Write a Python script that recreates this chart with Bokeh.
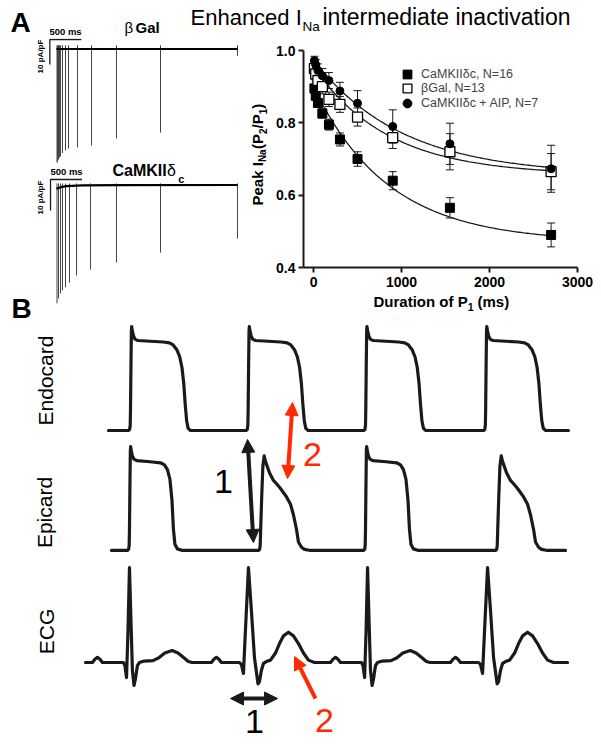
import numpy as np
from bokeh.plotting import figure
from bokeh.models import (Range1d, FixedTicker, PrintfTickFormatter, Label, Legend, LegendItem,
                          ColumnDataSource, Whisker, TeeHead, Arrow, NormalHead)
from bokeh.layouts import column, row
from bokeh.embed import file_html
from bokeh.resources import INLINE

FONT = "Liberation Sans"
RED = "#ff2a00"
INK = "#1a1a1a"

# ---------------- Panel A (right): recovery from intermediate inactivation ----------------
durations_ms = [10, 25, 50, 100, 175, 300, 500, 900, 1550, 2700]
camk_ratio = [0.895, 0.875, 0.855, 0.826, 0.795, 0.754, 0.700, 0.640, 0.565, 0.490]
camk_sem = [0.012, 0.012, 0.012, 0.013, 0.015, 0.018, 0.020, 0.025, 0.028, 0.033]
bgal_ratio = [0.950, 0.935, 0.917, 0.900, 0.865, 0.851, 0.816, 0.759, 0.720, 0.665]
bgal_sem = [0.020, 0.020, 0.020, 0.020, 0.020, 0.022, 0.025, 0.030, 0.050, 0.050]
aip_ratio = [0.972, 0.960, 0.945, 0.930, 0.917, 0.888, 0.854, 0.790, 0.742, 0.673]
aip_sem = [0.012, 0.015, 0.018, 0.020, 0.022, 0.024, 0.035, 0.046, 0.057, 0.065]
# mono-exponential fit parameters: plateau, amplitude, tau (ms)
camk_fit = [0.470, 0.430, 850]
bgal_fit = [0.655, 0.300, 850]
aip_fit = [0.655, 0.320, 1000]
fit_end_ms = 2700
legend_labels = ["CaMKIIδc, N=16", "βGal, N=13", "CaMKIIδc + AIP, N=7"]
x_ticks = [0, 1000, 2000, 3000]
y_ticks = [0.4, 0.6, 0.8, 1.0]

# ---------------- Panel A (left): current traces (ms, pA/pF) ----------------
bgal_spike_t = [0, 8, 24, 40, 56, 87, 135, 183, 325, 548, 944, 1643, 2865]
bgal_spike_amp = [-45.5, -45.0, -44.2, -43.4, -43.0, -41.6, -40.6, -39.8, -39.4, -38.6, -35.8, -33.4, -2.8]
bgal_base_t = [-10, 2865]
bgal_base_v = [0.0, 0.0]
cam_spike_t = [0, 24, 56, 87, 135, 198, 310, 532, 944, 1643, 2865]
cam_spike_amp = [-38.2, -36.6, -35.0, -34.0, -33.0, -31.5, -29.2, -27.3, -25.0, -21.8, -17.3]
cam_base_t = [-10, 60, 150, 400, 1000, 2865]
cam_base_v = [-1.2, -0.7, -0.35, -0.15, -0.05, 0.0]
scalebar_ms = 500
scalebar_pApF = 10

# ---------------- Panel B: schematic AP / ECG templates (ms, normalized level) ----------------
endo_tpl_t = [-14, -6, -2, 0, 3, 6, 8, 12, 20, 30, 50, 136, 224, 265, 290, 315, 335, 350, 362, 372, 382, 392, 408]
endo_tpl_v = [0, 0.01, 0.05, 0.2, 0.6, 0.95, 0.99, 0.95, 0.905, 0.87, 0.857, 0.85, 0.843, 0.835, 0.815, 0.77,
              0.70, 0.60, 0.45, 0.25, 0.09, 0.02, 0]
epi_tpl_t = [-14, -6, -2, 0, 3, 6, 8, 12, 20, 30, 50, 140, 211, 238, 258, 275, 289, 299, 309, 326, 360]
epi_tpl_v = [0, 0.01, 0.05, 0.2, 0.6, 0.95, 0.99, 0.95, 0.9, 0.87, 0.855, 0.845, 0.835, 0.815, 0.77, 0.68,
             0.48, 0.2, 0.06, 0.015, 0]
epi_dome_t = [-14, -6, -2, 0, 8, 16, 25, 32, 41, 61, 88, 109, 136, 177, 204, 224, 245, 258, 279, 299, 340]
epi_dome_v = [0, 0.01, 0.05, 0.15, 0.5, 0.8, 0.9, 0.86, 0.82, 0.74, 0.667, 0.635, 0.59, 0.51, 0.44, 0.34,
              0.2, 0.08, 0.03, 0.01, 0]
ecg_norm_t = [-252, -235, -218, -201, -184, -41, -31, -20, -10, 0, 10, 20, 31, 41, 54, 68, 100, 160, 200,
              240, 290, 330, 370, 400, 426]
ecg_norm_v = [0, 0.035, 0.055, 0.035, 0, 0, -0.032, -0.158, 0.337, 1.0, 0.442, -0.084, -0.242, -0.168,
              -0.032, 0, 0.015, 0.02, 0.05, 0.1, 0.126, 0.1, 0.05, 0.01, 0]
ecg_wide_t = [-252, -235, -218, -201, -184, -61, -48, -34, -17, 0, 20, 41, 65, 75, 88, 102, 122, 150, 184,
              211, 238, 272, 306, 340, 374, 408, 449]
ecg_wide_v = [0, 0.035, 0.055, 0.035, 0, 0, -0.02, -0.115, 0.45, 1.0, 0.55, 0.05, -0.224, -0.2, -0.084,
              -0.01, 0.01, 0.025, 0.1, 0.2, 0.28, 0.319, 0.28, 0.2, 0.1, 0.025, 0]
endo_onsets = [0, 800, 1600, 2415]
endo_kinds = ["endo", "endo", "endo", "endo"]
epi_onsets = [-7, 884, 1598, 2496]
epi_kinds = ["epi", "dome", "epi", "dome"]
ecg_r_times = [-7, 802, 1612, 2428]
ecg_kinds = ["norm", "wide", "norm", "wide"]
endo_span = [-150, 2978]
epi_span = [-129, 2958]
ecg_span = [-306, 2972]

templates = {"endo": (endo_tpl_t, endo_tpl_v), "epi": (epi_tpl_t, epi_tpl_v),
             "dome": (epi_dome_t, epi_dome_v), "norm": (ecg_norm_t, ecg_norm_v),
             "wide": (ecg_wide_t, ecg_wide_v)}


def build_trace(span, onsets, kinds):
    xs, ys = [span[0]], [0.0]
    for t0, k in zip(onsets, kinds):
        tt, vv = templates[k]
        xs += [t0 + t for t in tt]
        ys += list(vv)
    xs.append(span[1])
    ys.append(0.0)
    return xs, ys


ang = np.pi / 2


def lab(p, x, y, text, size, style="normal", color="black", align="left", angle=0.0, base=True):
    """Label placed by its alphabetic baseline (x, y in image-like coords, y downward).
    Rendered with a 'middle' baseline shifted by the cap-centre offset."""
    px = float(size.replace("px", ""))
    if base:
        if angle:
            x = x - 0.36 * px
        else:
            y = y - 0.36 * px
    p.add_layout(Label(x=x, y=y, text=text, text_font=FONT, text_font_size=size, text_font_style=style,
                       text_color=color, text_align=align, text_baseline="middle", angle=angle))


def no_align(p):
    if "frame_align" in p.properties():
        p.frame_align = False
    return p


def bare(width, height, xr, yr):
    p = figure(width=width, height=height, x_range=xr, y_range=yr, output_backend="svg",
               toolbar_location=None, x_axis_type=None, y_axis_type=None, min_border=0)
    p.outline_line_color = None
    p.grid.visible = False
    p.background_fill_color = "white"
    p.border_fill_color = "white"
    return no_align(p)


# ================= strip (top labels), image coords =================
ps_top = bare(593, 38, Range1d(0, 593), Range1d(38, 0))
lab(ps_top, 10, 32, "A", "28px", "bold")
lab(ps_top, 124, 32.5, "β", "15px")
lab(ps_top, 135, 32.5, "Gal", "15px", "bold")
lab(ps_top, 65, 34, "500 ms", "9.5px", "bold", align="center")
lab(ps_top, 190, 25, "Enhanced I", "22px")
lab(ps_top, 302, 31, "Na", "13.5px")
lab(ps_top, 322, 25, "intermediate inactivation", "23px")

# ================= panel A left: traces =================
pa = bare(245, 286, Range1d(-897, 2992), Range1d(324, 38))
pa.extra_y_ranges = {"gal": Range1d(-110.2, 4.2), "cam": Range1d(-45.0, 47.26)}
gal_corner = (-114, 3.8)
cam_corner = (-103, 1.77)
pa.line([gal_corner[0] + scalebar_ms, gal_corner[0], gal_corner[0]],
        [gal_corner[1], gal_corner[1], gal_corner[1] - scalebar_pApF],
        y_range_name="gal", line_width=1.3, color=INK)
pa.line([cam_corner[0] + scalebar_ms, cam_corner[0], cam_corner[0]],
        [cam_corner[1], cam_corner[1], cam_corner[1] - scalebar_pApF],
        y_range_name="cam", line_width=1.3, color=INK)
pa.segment(x0=bgal_spike_t, y0=[1.5] * len(bgal_spike_t), x1=bgal_spike_t, y1=bgal_spike_amp,
           y_range_name="gal", line_width=1.0, color="#444444")
pa.segment(x0=cam_spike_t, y0=[0.5] * len(cam_spike_t), x1=cam_spike_t, y1=cam_spike_amp,
           y_range_name="cam", line_width=1.0, color="#444444")
pa.line(bgal_base_t, bgal_base_v, y_range_name="gal", line_width=2.2, color="black")
pa.line(cam_base_t, cam_base_v, y_range_name="cam", line_width=2.2, color="black")
lab(pa, -262, 56, "10 pA/pF", "8px", "bold", align="center", angle=ang, base=False)
lab(pa, -262, 197, "10 pA/pF", "8px", "bold", align="center", angle=ang, base=False)
lab(pa, 151, 174.5, "500 ms", "9.5px", "bold", align="center")
lab(pa, 881, 176, "CaMKII", "16px", "bold")
lab(pa, 1745, 176, "δ", "16px")
lab(pa, 1925, 182, "c", "11px", "bold")
lab(pa, -722, 318, "B", "28px", "bold")

# ================= y title strip (image coords) =================
py_t = bare(23, 286, Range1d(245, 268), Range1d(324, 38))
lab(py_t, 262, 205.0, "Peak I", "15px", "bold", angle=ang)
lab(py_t, 265.6, 161.6, "Na", "10px", "bold", angle=ang)
lab(py_t, 262, 148.6, "(P", "15px", "bold", angle=ang)
lab(py_t, 265.6, 133.6, "2", "10px", "bold", angle=ang)
lab(py_t, 262, 128.0, "/P", "15px", "bold", angle=ang)
lab(py_t, 265.6, 113.8, "1", "10px", "bold", angle=ang)
lab(py_t, 262, 108.2, ")", "15px", "bold", angle=ang)

# ================= panel A right: scatter =================
pr = figure(width=325, height=254, x_range=Range1d(-114, 3000), y_range=Range1d(0.4, 1.0),
            output_backend="svg", toolbar_location=None, min_border_left=35, min_border_right=16,
            min_border_top=12, min_border_bottom=25)
no_align(pr)
pr.outline_line_color = None
pr.grid.visible = False
pr.xaxis.ticker = FixedTicker(ticks=x_ticks)
pr.yaxis.ticker = FixedTicker(ticks=y_ticks)
pr.yaxis.formatter = PrintfTickFormatter(format="%.1f")
for ax in (pr.xaxis[0], pr.yaxis[0]):
    ax.axis_line_width = 2
    ax.axis_line_color = INK
    ax.major_tick_line_width = 2
    ax.major_tick_line_color = INK
    ax.major_tick_in = 0
    ax.major_tick_out = 5
    ax.minor_tick_line_color = None
    ax.major_label_text_font = FONT
    ax.major_label_text_font_style = "bold"
    ax.major_label_text_font_size = "14px"
    ax.major_label_text_color = "black"
pr.xaxis.major_label_standoff = 4
pr.yaxis.major_label_standoff = 3

t_fit = np.linspace(0, fit_end_ms, 150)
for prm in (camk_fit, bgal_fit, aip_fit):
    pr.line(t_fit, prm[0] + prm[1] * np.exp(-t_fit / prm[2]), line_width=1.3, color=INK)

for ratio, sem in ((camk_ratio, camk_sem), (bgal_ratio, bgal_sem), (aip_ratio, aip_sem)):
    src = ColumnDataSource(dict(x=durations_ms,
                                lo=[r - s for r, s in zip(ratio, sem)],
                                hi=[r + s for r, s in zip(ratio, sem)]))
    pr.add_layout(Whisker(source=src, base="x", lower="lo", upper="hi", line_width=1, line_color=INK,
                          upper_head=TeeHead(size=8, line_width=1, line_color=INK),
                          lower_head=TeeHead(size=8, line_width=1, line_color=INK)))

r_cam = pr.scatter(durations_ms, camk_ratio, marker="square", size=9, fill_color="black", line_color="black")
r_gal = pr.scatter(durations_ms, bgal_ratio, marker="square", size=10, fill_color="white",
                   line_color="black", line_width=1.3)
r_aip = pr.scatter(durations_ms, aip_ratio, marker="circle", size=8, fill_color="black", line_color="black")

# one single-row legend per series, stacked at the reference row pitch
for i, (lbl, rr) in enumerate(zip(legend_labels, (r_cam, r_gal, r_aip))):
    yc = 73.5 + 14.75 * i          # row centre (image px)
    lg = Legend(items=[LegendItem(label=lbl, renderers=[rr])],
                location=(93, 267 - (yc + 11)), glyph_width=22, glyph_height=22, spacing=0,
                padding=0, margin=0, label_standoff=3, label_height=14, label_text_font=FONT,
                label_text_font_size="12.5px", border_line_color=None, background_fill_alpha=0)
    pr.add_layout(lg)

# ================= x title strip (image coords) =================
px_t = bare(325, 32, Range1d(268, 593), Range1d(324, 292))
lab(px_t, 373, 306.5, "Duration of P", "15px", "bold")
lab(px_t, 467.2, 310.5, "1", "10.5px", "bold")
lab(px_t, 477, 306.5, "(ms)", "15px", "bold")

# ================= panel B =================
pb = bare(593, 418, Range1d(-884, 3148.4), Range1d(742, 324))
pb.extra_y_ranges = {"endo": Range1d(-2.971, 1.0095), "epi": Range1d(-1.829, 2.152),
                     "ecg": Range1d(-0.842, 3.558)}
ex, ey = build_trace(endo_span, endo_onsets, endo_kinds)
qx, qy = build_trace(epi_span, epi_onsets, epi_kinds)
cx, cy = build_trace(ecg_span, ecg_r_times, ecg_kinds)
for xs, ys, rn in ((ex, ey, "endo"), (qx, qy, "epi"), (cx, cy, "ecg")):
    pb.line(xs, ys, y_range_name=rn, line_width=3.2, color=INK, line_join="round", line_cap="round")

lab(pb, -578, 380, "Endocard", "21px", align="center", angle=ang, base=False)
lab(pb, -585, 512, "Epicard", "21px", align="center", angle=ang, base=False)
lab(pb, -571, 631, "ECG", "21px", align="center", angle=ang, base=False)


def arrow(x0, y0, x1, y1, color, both=True):
    head = lambda: NormalHead(size=13, fill_color=color, line_color=color, line_width=1)
    pb.add_layout(Arrow(start=head() if both else None, end=head(), x_start=x0, y_start=y0,
                        x_end=x1, y_end=y1, line_width=4, line_color=color))


arrow(796, 439, 836, 542, INK)
arrow(1102, 402, 1068, 478, RED)
arrow(680, 698, 1000, 698, INK)
arrow(1258, 698, 1115, 656, RED, both=False)
lab(pb, 632, 481, "1", "34px", align="center", base=False)
lab(pb, 1238, 454, "2", "34px", color=RED, align="center", base=False)
lab(pb, 843, 721, "1", "34px", align="center", base=False)
lab(pb, 1319, 720, "2", "34px", color=RED, align="center", base=False)

layout = column(ps_top, row(pa, py_t, column(pr, px_t)), pb)
open("out.html", "w").write(file_html(layout, INLINE))
